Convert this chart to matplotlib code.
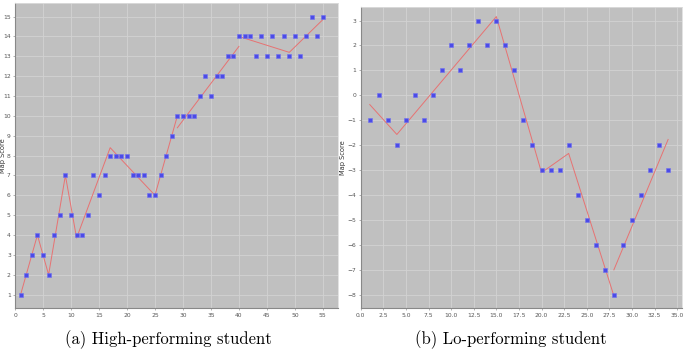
import numpy as np
import matplotlib
matplotlib.use("Agg")
import matplotlib.pyplot as plt
from matplotlib.ticker import FixedLocator, FormatStrFormatter

# high performing student: map score per step
hi_x = np.arange(1, 56)
hi_y = [1, 2, 3, 4, 3, 2, 4, 5, 7, 5, 4, 4, 5, 7, 6, 7, 8, 8, 8, 8,
        7, 7, 7, 6, 6, 7, 8, 9, 10, 10, 10, 10, 11, 12, 11, 12, 12, 13, 13, 14,
        14, 14, 13, 14, 13, 14, 13, 14, 13, 14, 13, 14, 15, 14, 15]
# piecewise trend line (red)
hi_fit = [([1, 4, 6, 9, 11, 17, 25, 29], [1, 4, 2, 7, 3.85, 8.4, 6.0, 10.0]),
          ([29, 40], [9.4, 13.5]),
          ([40, 49, 55], [14.0, 13.2, 14.85])]

# low performing student
lo_x = np.arange(1, 35)
lo_y = [-1, 0, -1, -2, -1, 0, -1, 0, 1, 2, 1, 2, 3, 2, 3, 2, 1, -1, -2, -3,
        -3, -3, -2, -4, -5, -6, -7, -8, -6, -5, -4, -3, -2, -3]
lo_fit = [([1, 4, 15, 20, 23, 28], [-0.37, -1.57, 3.16, -3.1, -2.33, -8.04]),
          ([28, 34], [-7.0, -1.77])]

captions = ["(a) High-performing student", "(b) Lo-performing student"]

bg = "#c0c0c0"
grid_c = "#d2d2d2"
mark_c = "#4b4be8"
line_c = "#e77272"

fig = plt.figure(figsize=(6.86, 3.52), dpi=100)

def panel(rect, x, y, fits, xlim, ylim, xticks, yticks, xfmt, lab_x):
    ax = fig.add_axes(rect)
    ax.set_facecolor(bg)
    for xs, ys in fits:
        ax.plot(xs, ys, color=line_c, lw=0.7, zorder=2)
    ax.plot(x, y, ls="none", marker="s", ms=3.2, mfc=mark_c, mec="#7070f0",
            mew=0.4, zorder=3)
    ax.set_xlim(*xlim)
    ax.set_ylim(*ylim)
    ax.xaxis.set_major_locator(FixedLocator(xticks))
    ax.yaxis.set_major_locator(FixedLocator(yticks))
    ax.xaxis.set_major_formatter(FormatStrFormatter(xfmt))
    ax.grid(True, color=grid_c, lw=0.6, zorder=1)
    ax.set_axisbelow(True)
    ax.tick_params(labelsize=4.3, labelcolor="#555555", length=1.5,
                   width=0.4, color="#777777", pad=2.0)
    ax.tick_params(axis="y", pad=1.5)
    ax.set_ylabel("Map Score", fontsize=4.8, color="#333333")
    ax.yaxis.set_label_coords(lab_x, 0.5)
    for s in ["left", "bottom"]:
        ax.spines[s].set_color("#888888")
        ax.spines[s].set_linewidth(0.8)
    for s in ["top", "right"]:
        ax.spines[s].set_color("#dddddd")
        ax.spines[s].set_linewidth(0.6)
    return ax

ax1 = panel([0.0219, 0.1236, 0.4712, 0.8687], hi_x, hi_y, hi_fit,
            (0, 57.75), (0.3, 15.7), np.arange(0, 56, 5), np.arange(1, 16),
            "%d", -0.027)
ax2 = panel([0.5258, 0.1236, 0.4679, 0.857], lo_x, lo_y, lo_fit,
            (0, 35.5), (-8.55, 3.55), np.arange(0, 35.1, 2.5), np.arange(-8, 4),
            "%.1f", -0.046)

fig.text(0.245, 0.022, captions[0], fontsize=12, family="cmr10",
         ha="center", va="baseline")
fig.text(0.745, 0.022, captions[1], fontsize=12, family="cmr10",
         ha="center", va="baseline")

fig.savefig("out.png", dpi=100)
